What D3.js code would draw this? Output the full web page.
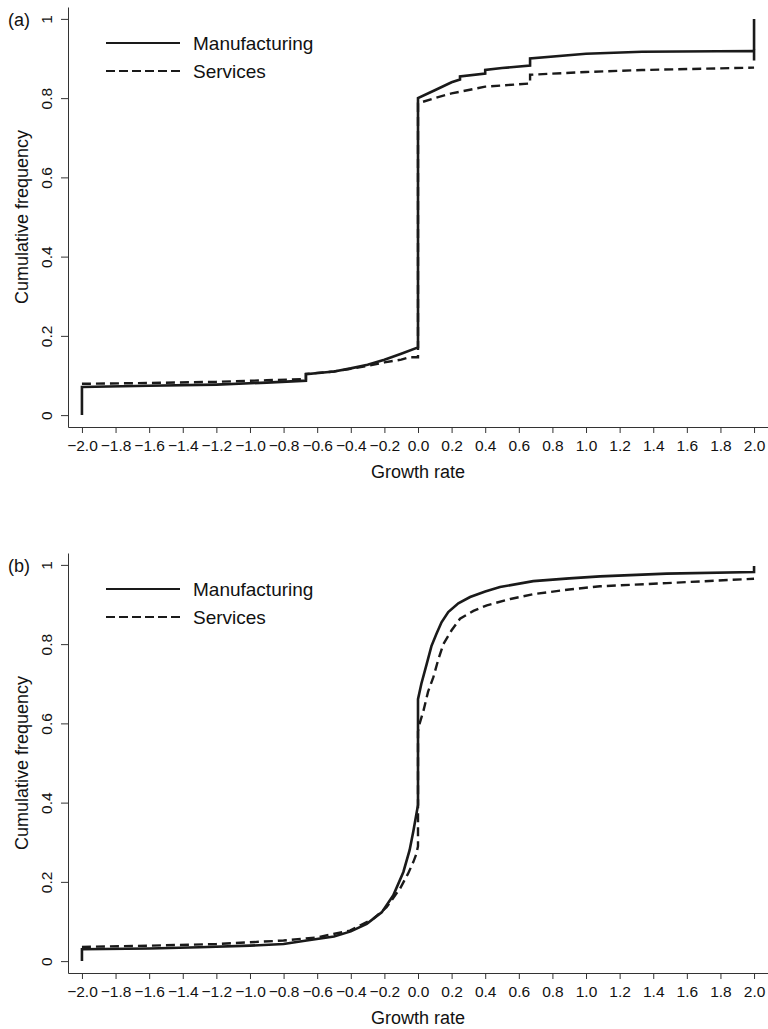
<!DOCTYPE html>
<html>
<head>
<meta charset="utf-8">
<script src="https://cdn.jsdelivr.net/npm/d3@7"></script>
<style>
  body { margin: 0; background: #fff; }
  text { font-family: "Liberation Sans", Arial, sans-serif; fill: #111; }
</style>
</head>
<body>
<svg id="chart" width="768" height="1029"></svg>
<script>
// tick labels
var xTicks = [-2.0, -1.8, -1.6, -1.4, -1.2, -1.0, -0.8, -0.6, -0.4, -0.2, 0.0, 0.2, 0.4, 0.6, 0.8, 1.0, 1.2, 1.4, 1.6, 1.8, 2.0];
var yTicks = [0, 0.2, 0.4, 0.6, 0.8, 1];
var seriesNames = ["Manufacturing", "Services"];

// panel (a): [growth rate, cumulative frequency]
var manufA = [[-2.0, 0.0], [-2.0, 0.071], [-1.6, 0.074], [-1.2, 0.077], [-0.9, 0.082], [-0.667, 0.087],
  [-0.667, 0.103], [-0.5, 0.11], [-0.4, 0.118], [-0.3, 0.127], [-0.2, 0.14], [-0.1, 0.155], [0.0, 0.171],
  [0.0, 0.80], [0.1, 0.82], [0.2, 0.84], [0.25, 0.847], [0.25, 0.855], [0.4, 0.862], [0.4, 0.871],
  [0.5, 0.876], [0.667, 0.882], [0.667, 0.90], [1.0, 0.912], [1.333, 0.917], [2.0, 0.919], [2.0, 0.895], [2.0, 1.0]];
var servA = [[-2.0, 0.079], [-1.6, 0.081], [-1.2, 0.084], [-0.9, 0.088], [-0.667, 0.091], [-0.667, 0.104],
  [-0.5, 0.11], [-0.4, 0.117], [-0.3, 0.124], [-0.2, 0.133], [-0.1, 0.14], [-0.05, 0.146], [0.0, 0.146],
  [0.0, 0.787], [0.1, 0.8], [0.2, 0.812], [0.4, 0.829], [0.667, 0.837], [0.667, 0.859], [1.0, 0.866],
  [1.333, 0.871], [2.0, 0.877]];

// panel (b)
var manufB = [[-2.0, 0.0], [-2.0, 0.03], [-1.6, 0.032], [-1.3, 0.035], [-1.0, 0.039], [-0.8, 0.043],
  [-0.663, 0.052], [-0.5, 0.062], [-0.4, 0.075], [-0.305, 0.094], [-0.216, 0.123], [-0.147, 0.166],
  [-0.087, 0.225], [-0.05, 0.28], [-0.028, 0.327], [-0.01, 0.37], [0.0, 0.394], [0.0, 0.661],
  [0.02, 0.7], [0.052, 0.75], [0.08, 0.795], [0.11, 0.826], [0.14, 0.855], [0.18, 0.881], [0.24, 0.903],
  [0.31, 0.919], [0.4, 0.933], [0.488, 0.944], [0.686, 0.959], [0.9, 0.966], [1.083, 0.971],
  [1.48, 0.978], [2.0, 0.982], [2.0, 0.997]];
var servB = [[-2.0, 0.036], [-1.6, 0.039], [-1.2, 0.043], [-0.8, 0.052], [-0.6, 0.06], [-0.405, 0.077],
  [-0.266, 0.107], [-0.187, 0.136], [-0.107, 0.183], [-0.06, 0.22], [-0.028, 0.25], [-0.01, 0.27],
  [0.0, 0.29], [0.0, 0.58], [0.01, 0.6], [0.032, 0.631], [0.06, 0.68], [0.091, 0.716], [0.12, 0.76],
  [0.151, 0.8], [0.2, 0.835], [0.25, 0.864], [0.33, 0.884], [0.41, 0.898], [0.55, 0.914], [0.686, 0.926],
  [0.9, 0.938], [1.083, 0.946], [1.48, 0.954], [2.0, 0.965]];

var chart = d3.select("#chart");
var left = 68, right = 768;

function drawPanel(label, top, manuf, serv){
  var bottom = top + 420;
  var x = d3.scaleLinear().domain([-2.083, 2.083]).range([left, right]);
  var y = d3.scaleLinear().domain([-0.03, 1.03]).range([bottom, top]);
  var g = chart.append("g");

  var xAxis = g.append("g")
      .attr("transform", "translate(0," + bottom + ")")
      .call(d3.axisBottom(x).tickValues(xTicks).tickSize(6).tickSizeOuter(0).tickFormat(d3.format(".1f")));
  xAxis.selectAll("text").attr("dy", "0").attr("y", 24).style("font-size", "15.5px")
      .style("font-family", "Liberation Sans, Arial, sans-serif");

  var yAxis = g.append("g")
      .attr("transform", "translate(" + left + ",0)")
      .call(d3.axisLeft(y).tickValues(yTicks).tickSize(7).tickSizeOuter(0)
        .tickFormat(function(d){ return d === 0 || d === 1 ? String(d) : d3.format(".1f")(d); }));
  yAxis.selectAll("text")
      .attr("x", null).attr("dy", null)
      .attr("transform", "translate(-16,0) rotate(-90)")
      .style("text-anchor", "middle")
      .style("font-size", "15.5px")
      .style("font-family", "Liberation Sans, Arial, sans-serif");

  g.selectAll(".domain, .tick line").attr("stroke", "#333").attr("stroke-width", 1);

  g.append("text")
      .attr("x", 8).attr("y", y(1) + 7)
      .style("font-size", "18px")
      .text(label);

  g.append("text")
      .attr("transform", "translate(28," + y(0.5) + ") rotate(-90)")
      .style("text-anchor", "middle")
      .style("font-size", "18px")
      .text("Cumulative frequency");

  g.append("text")
      .attr("x", x(0)).attr("y", bottom + 51)
      .style("text-anchor", "middle")
      .style("font-size", "18px")
      .text("Growth rate");

  var line = d3.line().x(function(d){ return x(d[0]); }).y(function(d){ return y(d[1]); });

  g.append("path").datum(serv)
      .attr("d", line)
      .attr("fill", "none")
      .attr("stroke", "#1a1a1a")
      .attr("stroke-width", 2.4)
      .attr("stroke-dasharray", "9,5");

  g.append("path").datum(manuf)
      .attr("d", line)
      .attr("fill", "none")
      .attr("stroke", "#1a1a1a")
      .attr("stroke-width", 2.6);

  // legend
  var ly = [top + 36, top + 64];
  for (var i = 0; i < seriesNames.length; i++){
    g.append("line")
        .attr("x1", 106).attr("x2", 180)
        .attr("y1", ly[i]).attr("y2", ly[i])
        .attr("stroke", "#1a1a1a")
        .attr("stroke-width", 2)
        .attr("stroke-dasharray", i === 1 ? "9,4" : null);
    g.append("text")
        .attr("x", 193).attr("y", ly[i] + 7)
        .style("font-size", "19px")
        .text(seriesNames[i]);
  }
}

drawPanel("(a)", 7, manufA, servA);
drawPanel("(b)", 553, manufB, servB);
</script>
</body>
</html>
